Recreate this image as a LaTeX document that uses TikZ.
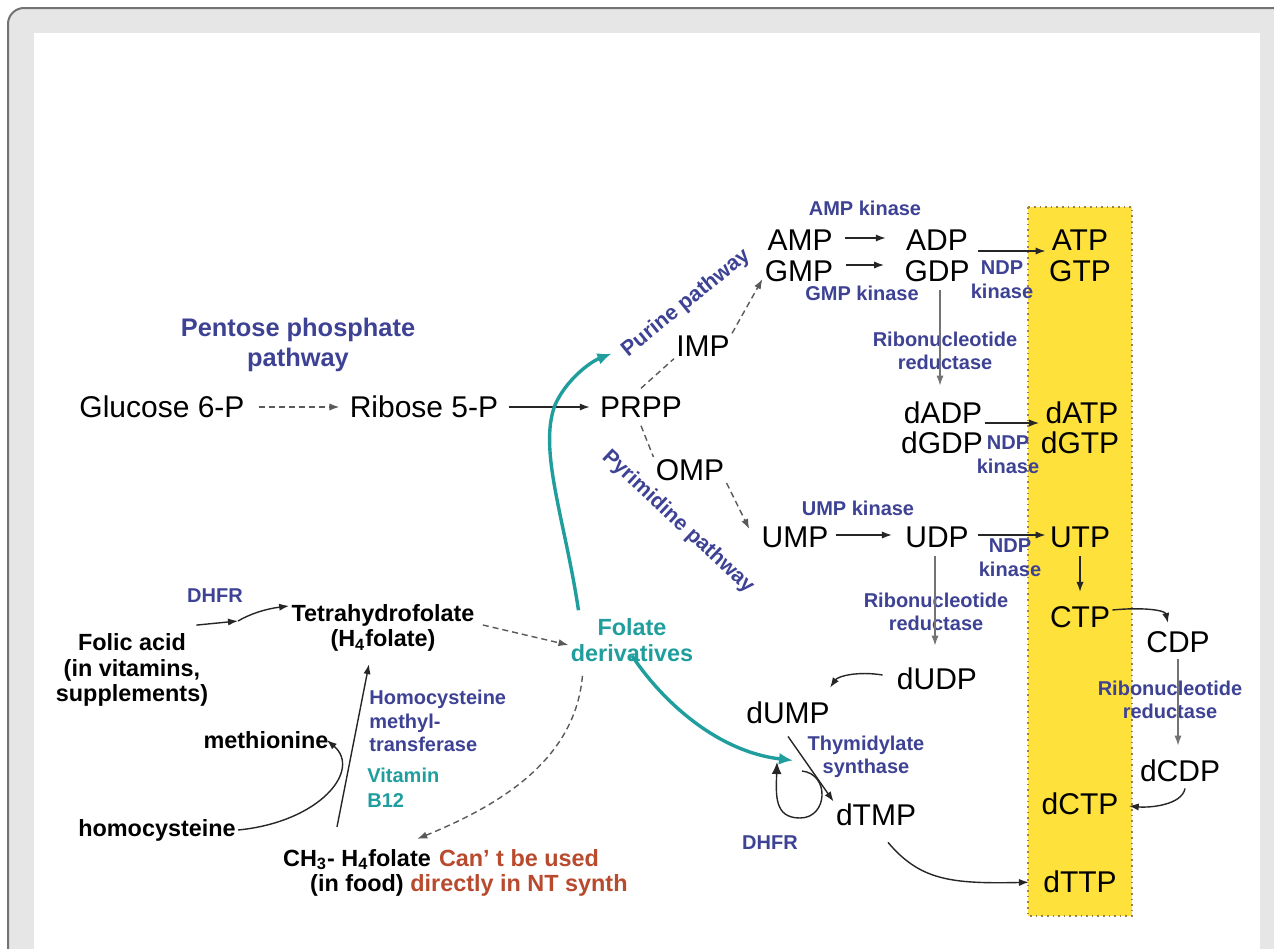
\documentclass[tikz,border=0pt]{standalone}
\usepackage{fontspec}
\setmainfont{Liberation Sans}
\usetikzlibrary{arrows.meta, calc}
\definecolor{enzblue}{RGB}{62,66,148}
\definecolor{folteal}{RGB}{32,158,158}
\definecolor{warnred}{RGB}{184,74,46}
\definecolor{ntpyellow}{RGB}{255,225,60}
\definecolor{ntpedge}{RGB}{150,128,80}
\definecolor{framegray}{RGB}{230,230,230}

\begin{document}
\begin{tikzpicture}[x=0.5pt, y=-0.5pt,
  met/.style={font=\fontsize{15}{17}\selectfont, inner sep=1pt},
  enz/.style={text=enzblue, font=\bfseries\fontsize{10}{11.8}\selectfont, align=center, inner sep=0.5pt},
  cof/.style={font=\bfseries\fontsize{11.7}{12.8}\selectfont, align=center, inner sep=1pt},
  fol/.style={cof, text=folteal},
  rxn/.style={draw=black!85, line width=0.7pt, -{Latex[length=5pt,width=3.6pt]}},
  rdc/.style={rxn, draw=black!55},
  dsh/.style={draw=black!65, line width=0.7pt, dash pattern=on 3pt off 2pt},
  dsharr/.style={dsh, -{Latex[length=5pt,width=3.6pt]}},
  feed/.style={draw=folteal, line width=1.7pt, -{Latex[length=7pt,width=6pt]}}
]
\useasboundingbox (0,0) rectangle (1274,948);
\path[fill=framegray, draw=black!55, line width=1pt, rounded corners=8pt] (8,8) rectangle (1300,990);
\path[fill=white] (34,33) rectangle (1260,990);
\path[fill=ntpyellow, draw=ntpedge, dotted, line width=0.8pt] (1028,207) rectangle (1132,916);

\node[enz, font=\bfseries\fontsize{12.7}{15}\selectfont] (ppp) at (298,345) {Pentose phosphate\\pathway};
\node[met] (g6p) at (162,407) {Glucose 6-P};
\node[met] (r5p) at (424,407) {Ribose 5-P};
\node[met] (prpp) at (641,407) {PRPP};
\node[met] (imp) at (703,346) {IMP};
\node[met] (omp) at (690,470) {OMP};
\node[enz, font=\bfseries\fontsize{10.7}{12}\selectfont, rotate=39] (purlab) at (686,303) {Purine pathway};
\node[enz, font=\bfseries\fontsize{10.6}{12}\selectfont, rotate=-43] (pyrlab) at (678,522) {Pyrimidine pathway};

\node[met] (amp) at (800,240) {AMP};
\node[met] (adp) at (937,240) {ADP};
\node[met] (atp) at (1080,240) {ATP};
\node[met] (gmp) at (799,271) {GMP};
\node[met] (gdp) at (937,271) {GDP};
\node[met] (gtp) at (1080,271) {GTP};
\node[enz] (ampk) at (865,208) {AMP kinase};
\node[enz] (gmpk) at (862,293) {GMP kinase};
\node[enz] (ndpk1) at (1002,280) {NDP\\kinase};
\node[enz] (rnr1) at (945,351) {Ribonucleotide\\reductase};

\node[met] (dadp) at (943,413) {dADP};
\node[met] (dgdp) at (942,443) {dGDP};
\node[met] (datp) at (1082,413) {dATP};
\node[met] (dgtp) at (1080,443) {dGTP};
\node[enz] (ndpk2) at (1008,455) {NDP\\kinase};

\node[met] (ump) at (795,537) {UMP};
\node[met] (udp) at (937,537) {UDP};
\node[met] (utp) at (1080,537) {UTP};
\node[enz] (umpk) at (858,508) {UMP kinase};
\node[enz] (ndpk3) at (1010,558) {NDP\\kinase};
\node[enz] (rnr2) at (936,612) {Ribonucleotide\\reductase};

\node[met] (ctp) at (1080,617) {CTP};
\node[met] (cdp) at (1178,642) {CDP};
\node[enz] (rnr3) at (1170,700) {Ribonucleotide\\reductase};
\node[met] (dcdp) at (1180,771) {dCDP};
\node[met] (dctp) at (1080,804) {dCTP};
\node[met] (dttp) at (1080,882) {dTTP};

\node[met] (dudp) at (937,679) {dUDP};
\node[met] (dump) at (788,713) {dUMP};
\node[met] (dtmp) at (876,815) {dTMP};
\node[enz] (tsyn) at (866,757) {Thymidylate\\synthase};
\node[enz] (dhfr2) at (770,843) {DHFR};

\node[cof] (folic) at (132,670) {Folic acid\\(in vitamins,\\supplements)};
\node[enz] (dhfr1) at (215,596) {DHFR};
\node[cof] (thf) at (383,628) {Tetrahydrofolate\\(H\textsubscript{4}folate)};
\node[fol] (folder) at (632,640) {Folate\\derivatives};
\node[cof] (methion) at (266,740) {methionine};
\node[cof] (homocys) at (157,830) {homocysteine};
\node[enz, align=left, anchor=west] (hmt) at (368,721) {Homocysteine\\methyl-\\transferase};
\node[enz, text=folteal, align=left, anchor=west, font=\bfseries\fontsize{10}{12.5}\selectfont] (b12) at (366,788) {Vitamin\\B12};
\node[cof] (ch3thf) at (357,873) {CH\textsubscript{3}- H\textsubscript{4}folate\\(in food)};
\node[cof, text=warnred] (nouse) at (519,873) {Can’ t be used\\directly in NT synth};

\draw[dsharr, shorten <=6pt, shorten >=4pt] (g6p) -- (r5p);
\draw[rxn, shorten <=4pt, shorten >=4pt] (r5p) -- (prpp);
\draw[dsh] ([yshift=3pt]prpp.north) -- (imp.south west);
\draw[dsharr] (imp.north east) -- ([yshift=-4pt]gmp.west);
\draw[dsh] ([yshift=-3pt]prpp.south) -- (omp.north west);
\draw[dsharr] (omp.south east) -- ([xshift=-5pt,yshift=4pt]ump.west);

\draw[rxn, shorten <=5pt, shorten >=9pt] ([yshift=1pt]amp.east) -- ([yshift=1pt]adp.west);
\draw[rxn, shorten <=5pt, shorten >=9pt] ([yshift=3pt]gmp.east) -- ([yshift=3pt]gdp.west);
\draw[rxn, shorten <=4pt, shorten >=2pt] ([yshift=-5.5pt]adp.east) -- ([yshift=-5.5pt]atp.west);
\draw[rdc, shorten <=3pt, shorten >=7pt] ([xshift=1.5pt]gdp.south) -- ([xshift=-1.5pt]dadp.north);
\draw[rxn, shorten >=2pt] ([yshift=-5pt]dadp.east) -- ([yshift=-5pt]datp.west);
\draw[rxn, shorten <=2.5pt, shorten >=5.5pt] ([yshift=1pt]ump.east) -- ([yshift=1pt]udp.west);
\draw[rxn, shorten <=3.5pt, shorten >=1pt] ([yshift=1pt]udp.east) -- ([yshift=1pt]utp.west);
\draw[rdc, shorten <=3pt, shorten >=10pt] ([xshift=-1pt]udp.south) -- ([xshift=-1pt]dudp.north);
\draw[rxn, shorten <=3pt, shorten >=6pt] (utp.south) -- (ctp.north);
\draw[rxn] ([yshift=3.5pt]ctp.east) .. controls (1142,607) and (1165,610) .. ([xshift=-5pt,yshift=3pt]cdp.north);
\draw[rdc, shorten <=2pt, shorten >=6pt] (cdp.south) -- ([xshift=-1pt]dcdp.north);
\draw[rxn] ([xshift=2.5pt,yshift=-2pt]dcdp.south) .. controls (1182,805) and (1150,808) .. ([xshift=4pt,yshift=-1pt]dctp.east);

\draw[rxn] ([xshift=-6pt,yshift=2pt]dudp.west) .. controls (858,671) and (838,676) .. ([xshift=-1pt,yshift=6pt]dump.north east);
\draw[rxn] ([yshift=-5pt]dump.south) -- (dtmp.north west);
\coordinate (tsloop) at (802,771);
\draw[rxn, -{Latex[length=6pt,width=5pt]}] (tsloop) .. controls (830,774) and (828,818) .. (800,818) .. controls (774,818) and (776,795) .. (777,762);
\draw[rxn, shorten >=6pt] ([xshift=6pt,yshift=-7pt]dtmp.south) .. controls (920,880) and (950,884) .. (dttp.west);

\draw[feed] ([xshift=5pt,yshift=3pt]folder.north west) .. controls (565,520) and (538,450) .. (555,405) .. controls (566,380) and (590,362) .. ([xshift=-6pt]purlab.west);
\draw[feed] ([yshift=4pt]folder.south) .. controls (665,705) and (720,752) .. ([xshift=2.5pt,yshift=-17pt]dump.south);
\draw[dsharr] ([xshift=3pt,yshift=1.5pt]thf.east) -- ([yshift=-2.5pt]folder.west);
\draw[dsharr] ([xshift=7pt,yshift=-6pt]folder.south west) .. controls (575,760) and (500,805) .. ([xshift=-8pt,yshift=4pt]ch3thf.north east);
\draw[rxn] ([xshift=-10pt,yshift=10pt]ch3thf.north) -- ([xshift=-7pt,yshift=-5pt]thf.south);
\draw[rxn] (homocys.east) .. controls (320,822) and (362,770) .. ([xshift=-2pt]methion.east);
\coordinate (dhfrjoin) at (238,621);
\draw[rxn] ([xshift=-7pt,yshift=3pt]folic.north east) -- (dhfrjoin);
\draw[rxn] (dhfrjoin) .. controls (250,614) and (265,609) .. ([yshift=-2pt]thf.north west);
\end{tikzpicture}
\end{document}
